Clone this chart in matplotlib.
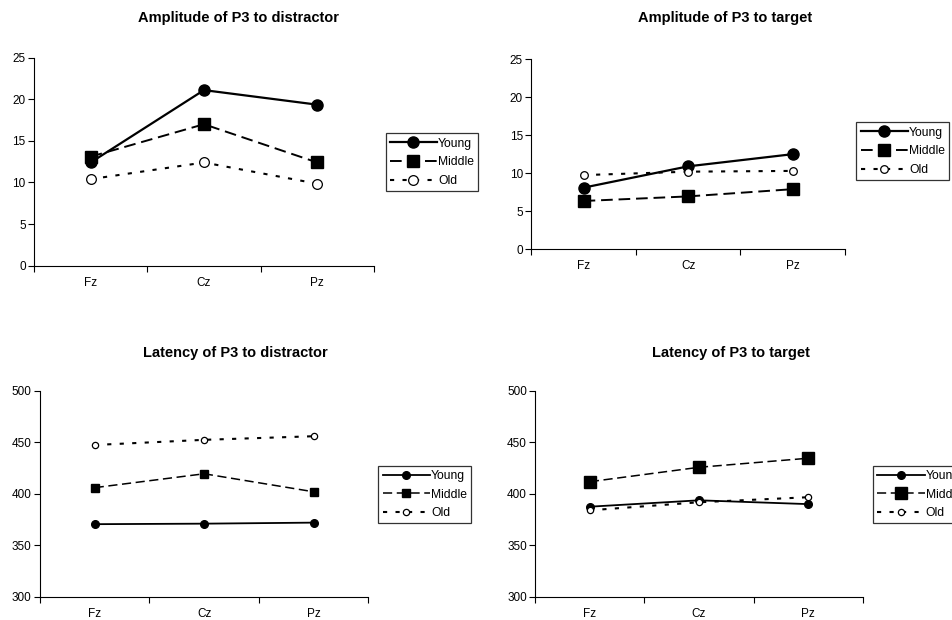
import matplotlib.pyplot as plt
import numpy as np

plt.rcParams['font.family'] = ['Liberation Sans', 'DejaVu Sans']

sites = ['Fz', 'Cz', 'Pz']
groups = ['Young', 'Middle', 'Old']

amp_distractor = {'Young': [12.4, 21.1, 19.35],
                  'Middle': [13.1, 17.0, 12.4],
                  'Old': [10.4, 12.4, 9.85]}
amp_target = {'Young': [8.1, 10.9, 12.5],
              'Middle': [6.35, 6.95, 7.9],
              'Old': [9.75, 10.2, 10.3]}
lat_distractor = {'Young': [370.5, 371, 372],
                  'Middle': [406, 419.5, 402],
                  'Old': [447.5, 452.5, 456]}
lat_target = {'Young': [387.5, 393.7, 390],
              'Middle': [411.8, 425.8, 434.6],
              'Old': [384, 391.8, 396.7]}

fig = plt.figure(figsize=(9.52, 6.2), dpi=100)


def style(group, big):
    if group == 'Young':
        return dict(color='black', ls='-', lw=1.6 if big else 1.3, marker='o',
                    ms=8 if big else 5.5, mfc='black', mec='black')
    if group == 'Middle':
        return dict(color='black', ls=(0, (6, 3)), lw=1.4 if big else 1.1,
                    marker='s', ms=8 if big else 6, mfc='black', mec='black')
    return dict(color='black', ls=(0, (2, 4)), lw=1.5, marker='o',
                ms=7 if big else 5, mfc='white', mec='black', mew=0.9)


def panel(rect, data, ylim, step, title, title_xy, leg_xy, big, sizes=None):
    ax = fig.add_axes(rect)
    x = np.arange(len(sites))
    for g in groups:
        st = style(g, big)
        if sizes is not None:
            st['ms'] = sizes[g]
        ax.plot(x, data[g], label=g, clip_on=False, **st)
    ax.set_xlim(-0.5, 2.5)
    ax.set_ylim(*ylim)
    ax.set_yticks(np.arange(ylim[0], ylim[1] + 1, step))
    ax.set_xticks([-0.5, 0.5, 1.5, 2.5])
    ax.set_xticklabels([])
    ax.set_xticks(x, minor=True)
    ax.set_xticklabels(sites, minor=True)
    ax.tick_params(axis='x', which='minor', length=0, pad=8, labelsize=8.5)
    ax.tick_params(axis='x', which='major', length=4, direction='out', width=0.8)
    ax.tick_params(axis='y', length=4, direction='out', width=0.8, labelsize=8.5, pad=2)
    for s in ['top', 'right']:
        ax.spines[s].set_visible(False)
    for s in ['left', 'bottom']:
        ax.spines[s].set_linewidth(0.8)
    fig.text(title_xy[0], title_xy[1], title, ha='center', va='center',
             fontsize=10.5, fontweight='bold')
    leg = ax.legend(loc='upper left', bbox_to_anchor=leg_xy, bbox_transform=fig.transFigure,
                    borderaxespad=0, fontsize=8.7, handlelength=3.9, handletextpad=0.1,
                    labelspacing=0.55, borderpad=0.35, fancybox=False, frameon=True)
    leg.get_frame().set_edgecolor('black')
    leg.get_frame().set_linewidth(0.9)
    return ax


panel([0.0357, 0.5715, 0.3571, 0.3355], amp_distractor, (0, 25), 5,
      'Amplitude of P3 to distractor', (0.2507, 0.9705), (0.405, 0.785), True)
panel([0.5581, 0.5979, 0.3295, 0.3069], amp_target, (0, 25), 5,
      'Amplitude of P3 to target', (0.7619, 0.9705), (0.8995, 0.8027), True,
      sizes={'Young': 8, 'Middle': 8.5, 'Old': 5.5})
panel([0.042, 0.0376, 0.3449, 0.3318], lat_distractor, (300, 500), 50,
      'Latency of P3 to distractor', (0.2469, 0.4301), (0.3974, 0.2489), False,
      sizes={'Young': 5.5, 'Middle': 6, 'Old': 4.5})
panel([0.5623, 0.0376, 0.3439, 0.3318], lat_target, (300, 500), 50,
      'Latency of P3 to target', (0.7679, 0.4301), (0.9173, 0.2489), False,
      sizes={'Young': 5.5, 'Middle': 8.5, 'Old': 4.5})

fig.savefig('out.png', dpi=100)
